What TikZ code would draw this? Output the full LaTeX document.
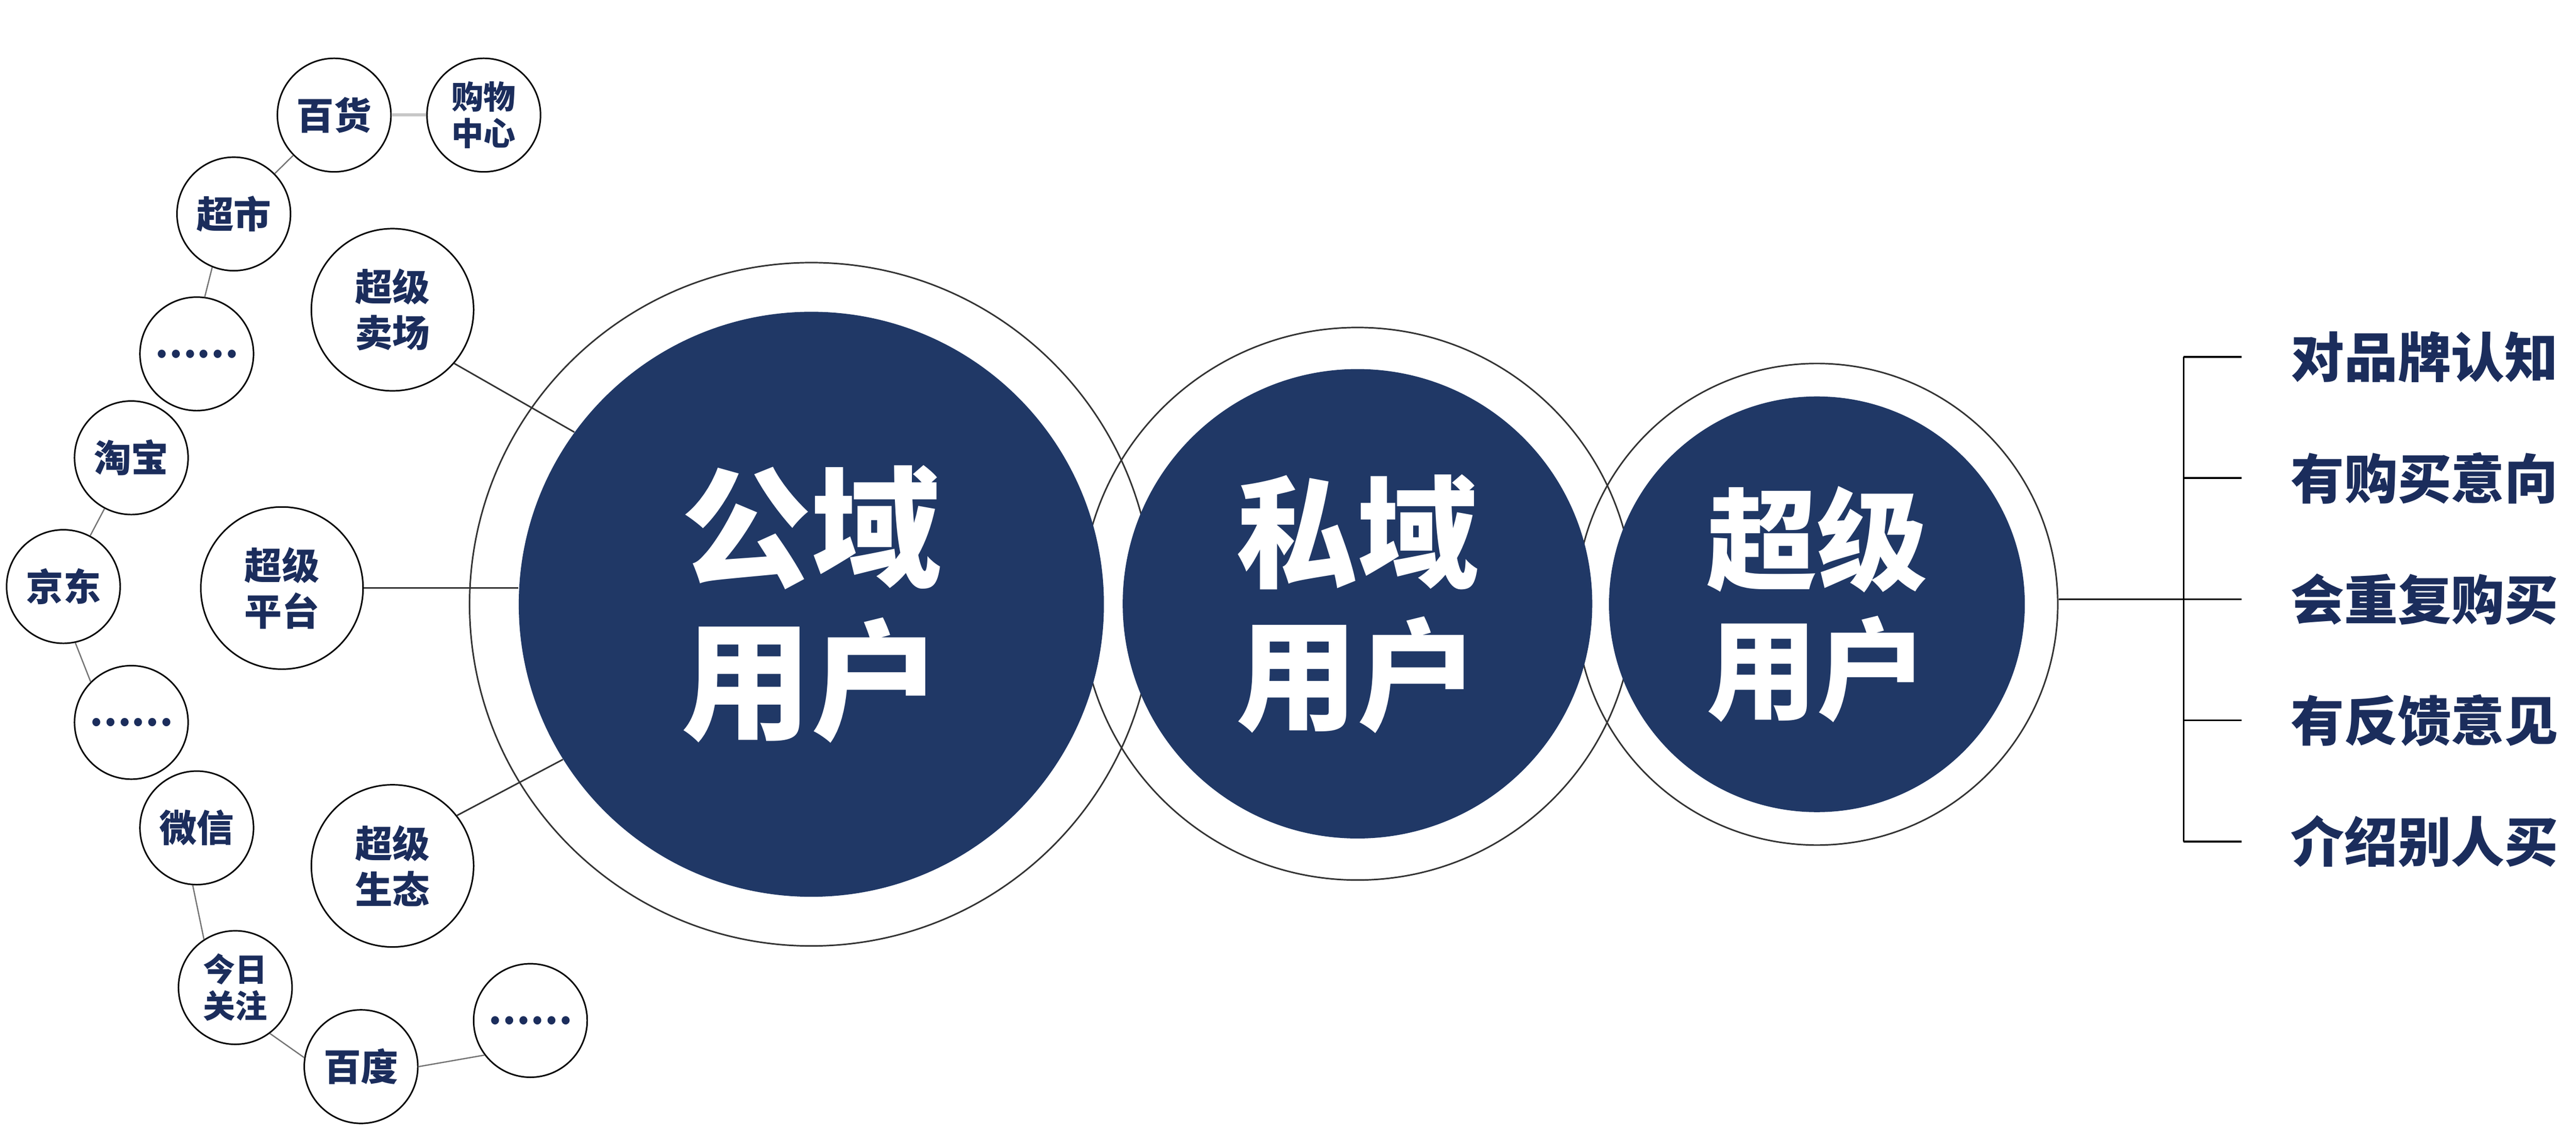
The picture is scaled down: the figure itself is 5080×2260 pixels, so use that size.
\documentclass[tikz,border=0pt]{standalone}
\usepackage{fontspec}
\newfontfamily\cjk{Noto Sans CJK SC}
\definecolor{navy}{RGB}{32,56,102}
\definecolor{inkblue}{RGB}{27,45,92}

\begin{document}
\begin{tikzpicture}[x=0.1mm, y=-0.1mm,
  ring/.style={circle, draw=black!80, line width=0.3mm, inner sep=0pt},
  core/.style={circle, fill=navy, inner sep=0pt, text=white, align=center},
  bubble/.style={circle, draw=black, line width=0.3mm, fill=white, minimum size=22.4mm, inner sep=0pt, align=center, text=inkblue, font=\cjk\bfseries\fontsize{21}{25.6}\selectfont},
  bigbubble/.style={bubble, minimum size=32mm},
  tinytext/.style={font=\cjk\bfseries\fontsize{18}{20.5}\selectfont},
  link/.style={draw=black!55, line width=0.25mm},
  conn/.style={draw=black!80, line width=0.3mm},
  brace/.style={draw=black, line width=0.35mm},
  trait/.style={anchor=west, inner sep=0pt, text=inkblue, font=\cjk\bfseries\fontsize{30}{36}\selectfont}]
  \useasboundingbox (0,0) rectangle (5080,2260);

  % outer rings
  \node[ring, minimum size=134.8mm] (gongyuRing) at (1600,1192) {};
  \node[ring, minimum size=109mm] (siyuRing) at (2677,1191) {};
  \node[ring, minimum size=95mm] (chaojiRing) at (3583,1192) {};

  % user circles
  \node[core, minimum size=115.4mm, font=\cjk\bfseries\fontsize{73}{86}\selectfont] (gongyu) at (1600,1192) {公域\\用户};
  \node[core, minimum size=92.6mm, font=\cjk\bfseries\fontsize{68}{80}\selectfont] (siyu) at (2677,1191) {私域\\用户};
  \node[core, minimum size=82mm, font=\cjk\bfseries\fontsize{62}{72.5}\selectfont] (chaoji) at (3583,1192) {超级\\用户};

  % channels
  \node[bubble] (baihuo) at (659,227) {百货};
  \node[bubble, tinytext] (gouwu) at (954,227) {购物\\中心};
  \node[bubble] (chaoshi) at (461,422) {超市};
  \node[bubble] (dotsA) at (388,698) {……};
  \node[bigbubble] (maichang) at (774,611) {超级\\卖场};
  \node[bubble] (taobao) at (259,903) {淘宝};
  \node[bubble] (jingdong) at (125,1157) {京东};
  \node[bigbubble] (pingtai) at (556,1160) {超级\\平台};
  \node[bubble] (dotsB) at (259,1425) {……};
  \node[bubble] (weixin) at (388,1633) {微信};
  \node[bigbubble] (shengtai) at (774,1708) {超级\\生态};
  \node[bubble, tinytext] (jinri) at (464,1948) {今日\\关注};
  \node[bubble] (baidu) at (712,2104) {百度};
  \node[bubble] (dotsC) at (1046,2013) {……};

  \draw[link] (chaoshi) -- (baihuo);
  \draw[link, draw=black!22, line width=0.6mm] (baihuo) -- (gouwu);
  \draw[link] (chaoshi.248) -- (dotsA.82);
  \draw[link] (taobao) -- (jingdong);
  \draw[link] (jingdong.-78) -- (dotsB.135);
  \draw[link] (weixin.-94) -- (jinri.123);
  \draw[link] (jinri.-53) -- (baidu.171);
  \draw[link] (baidu.0) -- (dotsC.217);

  \draw[conn] (maichang.-41) -- (gongyu.144);
  \draw[conn] (pingtai.east) -- (pingtai.east -| gongyu.west);
  \draw[conn] (shengtai.38) -- (gongyu.212);

  % traits of super users
  \foreach \y/\txt [count=\i] in {704/对品牌认知, 943/有购买意向, 1182/会重复购买, 1421/有反馈意见, 1660/介绍别人买} {
    \coordinate (fork\i) at (4306,\y);
    \node[trait] (trait\i) at (4517,\y) {\txt};
    \draw[brace] (fork\i) -- ++(115,0);
  }
  \draw[brace] (fork1) -- (fork5);
  \draw[brace] (chaojiRing.east |- fork3) -- (fork3);

\end{tikzpicture}
\end{document}
